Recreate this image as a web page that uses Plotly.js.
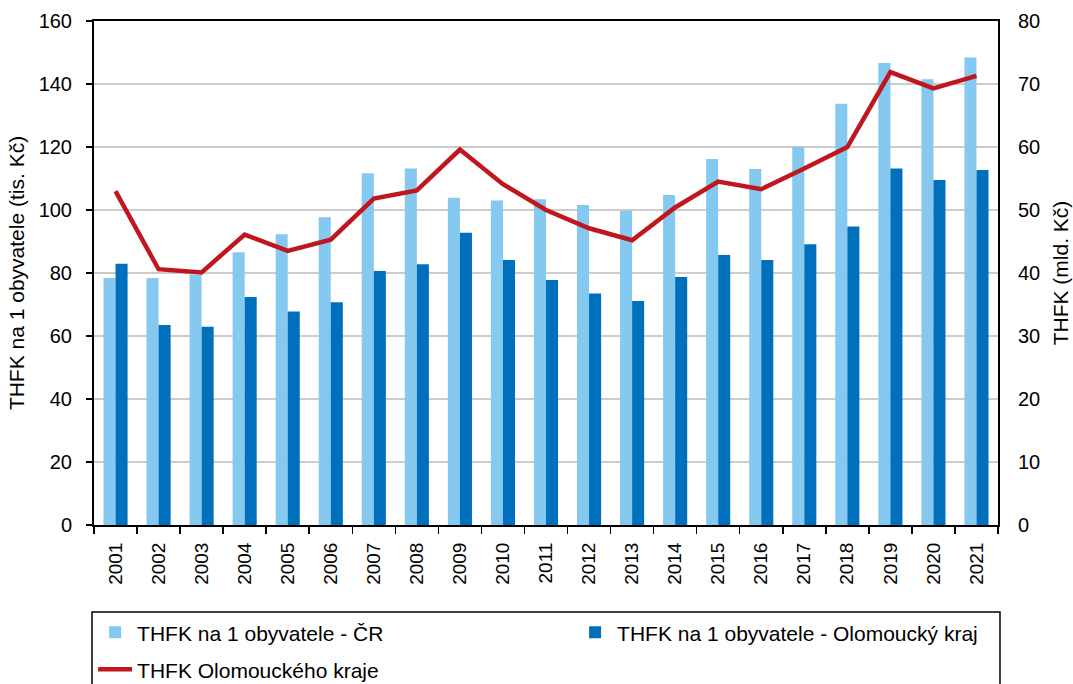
<!DOCTYPE html>
<html>
<head>
<meta charset="utf-8">
<script src="https://cdn.plot.ly/plotly-3.0.1.min.js"></script>
<style>html,body{margin:0;padding:0;background:#fff;}#chart{width:1073px;height:684px;}</style>
</head>
<body>
<div id="chart"></div>
<script>
const years = ["2001","2002","2003","2004","2005","2006","2007","2008","2009","2010","2011","2012","2013","2014","2015","2016","2017","2018","2019","2020","2021"];
const perCapitaCR = [78.4,78.4,79.5,86.6,92.3,97.7,111.7,113.2,103.9,103.0,103.4,101.6,99.8,104.8,116.2,113.0,120.1,133.7,146.7,141.5,148.4];
const perCapitaOlomouc = [82.9,63.5,62.9,72.4,67.8,70.7,80.6,82.8,92.8,84.1,77.8,73.5,71.1,78.7,85.7,84.1,89.1,94.8,113.2,109.5,112.7];
const totalOlomouc = [53.0,40.6,40.1,46.1,43.5,45.3,51.8,53.1,59.6,54.1,50.0,47.1,45.2,50.4,54.5,53.3,56.6,60.0,71.9,69.3,71.3];
const seriesNames = ["THFK na 1 obyvatele - ČR","THFK na 1 obyvatele - Olomoucký kraj","THFK Olomouckého kraje"];

const font = {family: "Liberation Sans, Arial, sans-serif", size: 20, color: "#000"};

const traces = [
  {type:"bar", x:years, y:perCapitaCR, name:seriesNames[0], marker:{color:"#85C8F0"}, yaxis:"y", legend:"legend"},
  {type:"bar", x:years, y:perCapitaOlomouc, name:seriesNames[1], marker:{color:"#0070BC"}, yaxis:"y", legend:"legend"},
  {type:"scatter", mode:"lines", x:years, y:totalOlomouc, name:seriesNames[2], line:{color:"#C0171F", width:4.5}, yaxis:"y2", legend:"legend2"}
];

const legendFont = {family:font.family, size:21, color:"#000"};

const layout = {
  width:1073, height:684,
  margin:{l:94, r:75, t:21, b:159, autoexpand:false},
  paper_bgcolor:"#fff", plot_bgcolor:"#fff",
  font:font,
  barmode:"group", bargap:0.44, bargroupgap:0,
  showlegend:true,
  legend:{orientation:"h", x:-0.001, xanchor:"left", y:-0.173, yanchor:"top",
    entrywidth:431, entrywidthmode:"pixels", itemwidth:34, tracegroupgap:0,
    font:legendFont, bgcolor:"rgba(0,0,0,0)"},
  legend2:{orientation:"h", x:-0.001, xanchor:"left", y:-0.2464, yanchor:"top",
    itemwidth:34, font:legendFont, bgcolor:"rgba(0,0,0,0)"},
  xaxis:{type:"category", tickangle:-90, ticks:"outside", tickson:"boundaries", ticklen:7,
    tickcolor:"#000", tickwidth:1.5, showline:true, linecolor:"#000", linewidth:2, mirror:true,
    showgrid:false, tickfont:{size:19}, ticklabelstandoff:8},
  yaxis:{range:[0,160], dtick:20, ticks:"outside", ticklen:6, tickcolor:"#000", tickwidth:1.5,
    showline:true, linecolor:"#000", linewidth:2, gridcolor:"#CCCCCC", gridwidth:1.5,
    zeroline:false, tickfont:{size:20}, ticklabelstandoff:10,
    title:{text:"THFK na 1 obyvatele (tis. Kč)", font:{size:21}, standoff:8}},
  yaxis2:{range:[0,80], dtick:10, overlaying:"y", side:"right", ticks:"outside", ticklen:0,
    tickcolor:"#000", showline:true, linecolor:"#000", linewidth:2, showgrid:false,
    zeroline:false, tickfont:{size:20}, ticklabelstandoff:14,
    title:{text:"THFK (mld. Kč)", font:{size:21}, standoff:14}},
  shapes:[{type:"rect", xref:"paper", yref:"paper", x0:-0.0022, x1:1.0022, y0:-0.1726, y1:-0.34,
    line:{color:"#000", width:1.5}, fillcolor:"rgba(0,0,0,0)"}]
};

Plotly.newPlot("chart", traces, layout, {displayModeBar:false, staticPlot:true});
</script>
</body>
</html>
